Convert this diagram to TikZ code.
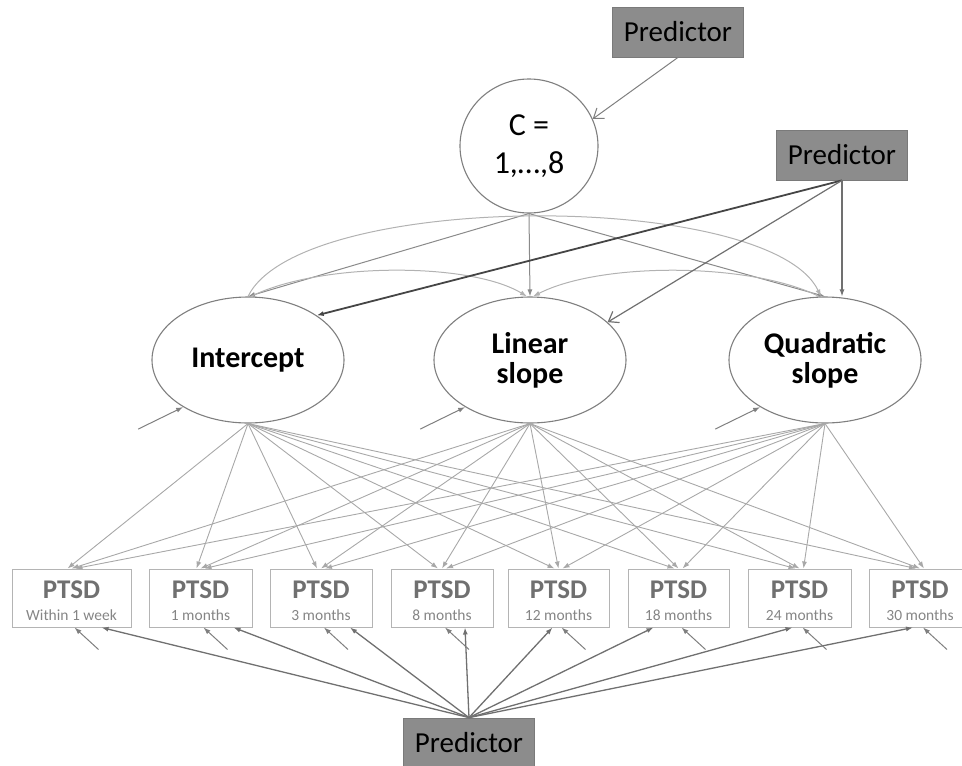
\documentclass[tikz,border=0pt]{standalone}
\usepackage{fontspec}
\setmainfont{Carlito}
\usetikzlibrary{arrows.meta,shapes.geometric}
\definecolor{predfill}{HTML}{8C8C8C}
\definecolor{predline}{HTML}{7A7A7A}
\definecolor{ringline}{HTML}{7F7F7F}
\definecolor{boxline}{HTML}{B4B4B4}
\definecolor{ptsdtxt}{HTML}{858585}
\definecolor{ptsdbold}{HTML}{707070}
\definecolor{fanline}{HTML}{A8A8A8}
\definecolor{arcline}{HTML}{B2B2B2}
\definecolor{midline}{HTML}{8A8A8A}
\definecolor{darkline}{HTML}{454545}
\definecolor{prdline}{HTML}{707070}
\tikzset{
  >={Latex[length=7pt,width=5pt]},
  predbox/.style={draw=predline,fill=predfill,line width=0.8pt,minimum width=131pt,minimum height=50pt,inner sep=0pt,font=\fontsize{29}{29}\selectfont},
  latent/.style={ellipse,draw=ringline,line width=1.1pt,minimum width=192pt,minimum height=126pt,inner sep=0pt,align=center,font=\fontsize{30}{30}\selectfont\bfseries},
  obsbox/.style={draw=boxline,line width=1pt,minimum height=58pt,inner sep=0pt,align=center,text=ptsdtxt,text height=44pt,text depth=0pt,font=\fontsize{15.5}{22}\selectfont},
  loadarr/.style={->,draw=fanline,line width=0.9pt},
  covarc/.style={->,draw=arcline,line width=1pt},
  pootarr/.style={->,draw=midline,line width=1pt},
  resarr/.style={->,draw=ringline,line width=1pt},
  predarr/.style={->,draw=prdline,line width=1.3pt},
  barbarr/.style={-{Straight Barb[length=9pt,width=13pt]},draw=ringline,line width=1pt},
}
\begin{document}
\begin{tikzpicture}[x=1pt,y=-1pt]
\useasboundingbox (0,0) rectangle (962,766);
% predictors and latent variables
\node[predbox] (pred1) at (678,32) {Predictor};
\node[predbox] (pred2) at (842,155) {Predictor};
\node[predbox] (pred3) at (469,743) {Predictor};
\node[latent,minimum width=138pt,minimum height=134pt,font=\fontsize{32}{38}\selectfont] (cls) at (529,146) {C =\\1,…,8};
\node[latent] (icpt) at (248,360) {Intercept};
\node[latent] (lin) at (530,360) {Linear\\slope};
\node[latent] (quad) at (825,360) {Quadratic\\slope};
% observed PTSD scores
\foreach \i/\x/\w/\t in {1/71.5/119/Within 1 week,2/200.5/103/1 months,3/321/102/3 months,4/442/102/8 months,5/558.5/101/12 months,6/678.5/101/18 months,7/799.5/103/24 months,8/920/102/30 months}
  \node[obsbox,minimum width=\w pt] (p\i) at (\x,598) {{\fontsize{27}{27}\selectfont\bfseries\color{ptsdbold}PTSD}\\\t};
% class to growth factors
\draw[barbarr] (pred1.south) -- (cls.23);
\foreach \n in {icpt,lin,quad}
  \draw[pootarr] (cls.south) -- (\n.north);
\draw[covarc] (icpt.north) .. controls (300,190) and (770,190) .. ([xshift=-4pt]quad.north);
\draw[covarc] ([xshift=3pt]icpt.north) .. controls (320,262) and (470,262) .. ([xshift=-3pt]lin.north);
\draw[covarc] ([xshift=-6pt]quad.north) .. controls (750,262) and (600,262) .. ([xshift=3pt]lin.north);
\draw[->,draw=darkline,line width=1.8pt] (pred2.south) -- (icpt.33);
\draw[-{Straight Barb[length=9pt,width=13pt]},draw=prdline,line width=1.2pt] (pred2.south) -- (lin.26);
\draw[->,draw=prdline,line width=1.2pt] (pred2.south) -- (pred2.south |- quad.north);
% residuals of growth factors
\foreach \n in {icpt,lin,quad} {
  \coordinate (d\n) at ([xshift=-45pt,yshift=-22pt]\n.216);
  \draw[resarr] (d\n) -- (\n.216);
}
% loadings
\foreach \n/\dx in {icpt/-4,lin/0,quad/4}
  \foreach \i in {1,...,8}
    \draw[loadarr] (\n.south) -- ([xshift=\dx pt]p\i.north);
% bottom predictor and residuals
\foreach \i/\dx in {1/30,2/33,3/29,4/23,5/-6,6/-25,7/-7,8/-7}
  \draw[predarr] (pred3.north) -- ([xshift=\dx pt]p\i.south);
\foreach \i in {1,...,8} {
  \coordinate (e\i) at ([xshift=27pt,yshift=-22pt]p\i.south);
  \draw[resarr] (e\i) -- ([xshift=3pt]p\i.south);
}
\end{tikzpicture}
\end{document}
